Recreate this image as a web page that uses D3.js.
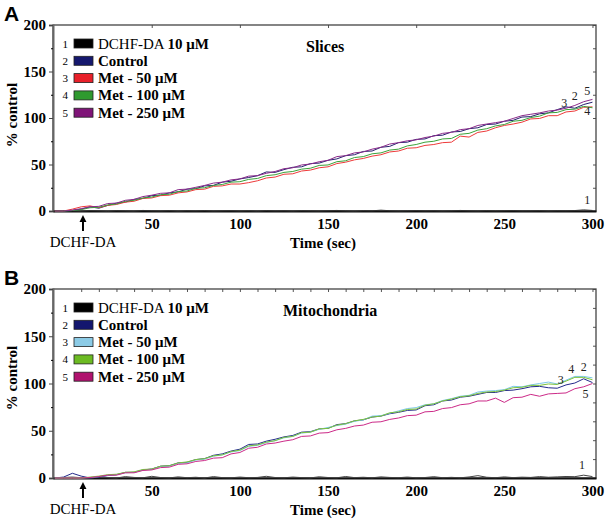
<!DOCTYPE html>
<html><head><meta charset="utf-8">
<script src="https://cdn.jsdelivr.net/npm/d3@7"></script>
<style>body{margin:0;background:#fff}svg{display:block}</style>
</head><body><svg id="c" width="606" height="523"></svg>
<script>
// time points (sec)
const times = [-5,0,5,10,15,20,25,30,35,40,45,50,55,60,65,70,75,80,85,90,95,100,105,110,115,120,125,130,135,140,145,150,155,160,165,170,175,180,185,190,195,200,205,210,215,220,225,230,235,240,245,250,255,260,265,270,275,280,285,290,295,300];
const xTicks = [50,100,150,200,250,300];
const yTicks = [0,50,100,150,200];
const legendLabels = ["DCHF-DA","Control","Met - 50 μM","Met - 100 μM","Met - 250 μM"];

// Panel A – Slices
const sliceDCHF = [0,0,0.3,-0.2,0.5,0.2,-0.3,0.4,0.1,-0.2,0.6,0.2,0,0.4,-0.2,0.3,0.1,0.5,-0.1,0.2,0.4,0,0.3,-0.2,0.5,0.1,0.3,-0.1,0.4,0.2,0,0.3,0.6,0.1,-0.2,0.4,0.2,0.9,0.3,0,0.2,0.5,0.1,0.3,-0.1,0.2,0.6,0.2,0,0.4,0.1,0.3,0.5,0.1,0.2,0.4,0,0.3,0.2,0.5,1.2,0.6];
const sliceControl = [0,0,0.5,2,4.5,3,6,8.5,9.5,12.5,13.5,16.5,17,19.5,20.5,23.5,24,27,27.5,31,32,34.5,36,38,42,41.5,44.5,47,47.5,51,51.5,54.5,56,59.5,60.5,64,64.5,68.5,69.5,73.5,74,77,77.5,81,81.5,85,85.5,88.5,89.5,93,93.5,96.5,97.5,101,101.5,104.5,105.5,109,112,110.5,114.5,117];
const sliceMet50 = [0,0,2,4.5,5.5,3.5,6,7,9.5,10.5,13.5,14,16.5,17,19.5,20.5,23,23.5,26.5,27,29,29,30.5,32.5,35.5,36.5,39.5,40,43,44,46.5,47.5,51,52.5,55,56.5,59,60.5,63.5,64.5,67.5,68,70.5,71.5,73.5,74,80.5,79.5,84.5,86,89.5,92,93.5,95.5,99,99.5,102.5,102.5,106.5,107.5,111.5,112];
const sliceMet100 = [0,0,0.5,1.5,3.5,4,6.5,7.5,10.5,11.5,14,15,17.5,18,21,21.5,24.5,25,27.5,28.5,31,31.5,34,35,38,39,41.5,42.5,45,46,49,49.5,53,54,57.5,58.5,61.5,62.5,65.5,66.5,70,71.5,74,75,77.5,78,82.5,83.5,87,88.5,91.5,93,96.5,97.5,100.5,102,105.5,106,109,109.5,112.5,111];
const sliceMet250 = [0,0,1,2.5,4.5,5,8,8.5,11.5,12.5,15.5,17,19,19.5,23,23.5,25.5,27.5,30,31,33.5,34.5,37.5,38,40.5,42.5,45.5,46.5,49.5,50.5,53,54.5,58.5,59.5,62.5,63.5,66.5,68.5,72,73.5,75.5,76.5,79,80.5,83.5,84.5,87.5,88.5,92,93.5,95,96.5,99.5,102.5,104,105.5,107.5,108.5,110.5,113.5,117.5,120];

// Panel B – Mitochondria
const mitoDCHF = [0,0.5,1,0.3,-0.2,1.2,0.4,0,1.5,0.6,0.2,1.8,0.5,0.1,1.2,0.3,0.8,0,1.5,0.4,0.2,1.0,0.3,0.6,1.8,0.5,0.2,1.0,0.4,0.1,1.3,0.5,0.2,1.6,0.4,0.8,0.2,1.2,0.6,0.3,1.0,0.2,0.5,1.4,0.3,0.7,0.2,1.1,2.5,0.8,0.3,1.2,0.4,0.9,0.6,1.5,0.8,1.2,1.6,1.4,3.0,1.5];
const mitoControl = [0,1,5,2,0,1,2.5,3.5,6,6,8.5,9.5,12.5,13,16,16.5,19.5,20.5,24,25.5,28.5,30.5,35.5,36,39,41,43.5,45,48.5,49,52,52.5,56.5,57.5,60.5,61.5,64.5,65.5,68,69.5,71.5,72,76.5,77.5,81.5,82.5,85.5,86.5,88.5,90.5,90.5,92.5,93,94.5,96.5,97,95.5,95,98.5,100.5,105,101];
const mitoMet50 = [0,0,0,0,0.5,1.5,3,3.5,5.5,6,8.5,9,12,12.5,15.5,16,19,20,23,24.5,27.5,29,33.5,34.5,37.5,39.5,42.5,44,47.5,48.5,51.5,53.5,55.5,57,60,61.5,65.5,66,68.5,71,73.5,74.5,77.5,78.5,82,84,86.5,87.5,91,92,92.5,93.5,97,96.5,98.5,100,101.5,99.5,103.5,107.5,107.5,106];
const mitoMet100 = [0,0,0,0,1,2,3.5,4,6,6.5,9,9.5,12.5,13,16,17,19.5,20.5,23.5,24.5,28,29.5,34,35,38,39.5,43,44,48,48.5,52,52.5,56,57.5,60.5,62,64.5,65.5,69,70,72.5,73,77,78.5,81.5,83.5,86,87,89.5,91,91.5,93,95.5,96,98,98,99.5,99,102.5,106.5,106.5,104];
const mitoMet250 = [0,0,0,0,0.5,1.5,3,3,5.5,5.5,8,8.5,11,11.5,14.5,15,17.5,18.5,21,21.5,25.5,27,31.5,32.5,36,37,39,40.5,44,44.5,47.5,48,51,52.5,55,56,59,59.5,62,63.5,66,66.5,70,70.5,73.5,74.5,77.5,78.5,81.5,81.5,84.5,80,85,85.5,88.5,86.5,89,89.5,90,94.5,96.5,100];

const panels = [
  {letter:"A", title:"Slices", top:25, bottom:211, titleX:306, titleY:52, ylabY:115,
   series:[sliceDCHF,sliceControl,sliceMet50,sliceMet100,sliceMet250],
   colors:["#000000","#15186e","#e8202a","#2f9a2f","#7f1478"],
   lineColors:["#333333","#25206e","#ee3a3a","#3aa33a","#8a2a8a"],
   rightStep:25, topStep:50,
   endLabels:[{n:"1",t:297,v:8},{n:"5",t:297,v:125},{n:"2",t:290,v:119},{n:"4",t:297,v:103},{n:"3",t:284,v:112}]},
  {letter:"B", title:"Mitochondria", top:289, bottom:478, titleX:283, titleY:316, ylabY:378,
   series:[mitoDCHF,mitoControl,mitoMet50,mitoMet100,mitoMet250],
   colors:["#000000","#13166e","#8ccbe6","#6cbb22","#b0126e"],
   lineColors:["#444444","#232a8a","#7cc8e8","#7cc23a","#cc2a88"],
   rightStep:20, topStep:10,
   endLabels:[{n:"1",t:294,v:9},{n:"2",t:295,v:113},{n:"4",t:288,v:111},{n:"3",t:282,v:99},{n:"5",t:296,v:85}]}
];

const svg = d3.select("#c");
const left = 53, right = 596;
const serif = "'Liberation Serif','Times New Roman',serif";

panels.forEach(p => {
  const x = d3.scaleLinear().domain([-6, 302]).range([left, right]);
  const y = d3.scaleLinear().domain([0, 200]).range([p.bottom, p.top]);
  const g = svg.append("g");

  // panel letter
  g.append("text").attr("x", 4).attr("y", p.top - 4)
    .attr("font-family", "'Liberation Sans',Arial,sans-serif").attr("font-weight", "bold")
    .attr("font-size", 21).text(p.letter);

  // right axis ticks (inside)
  g.append("g").attr("transform", `translate(${right},0)`)
    .call(d3.axisLeft(y).tickValues(d3.range(0, 201, p.rightStep)).tickSize(3).tickFormat(""))
    .call(a => a.select(".domain").remove())
    .selectAll("line").attr("stroke", "#555");
  // top axis ticks (inside)
  g.append("g").attr("transform", `translate(0,${p.top})`)
    .call(d3.axisBottom(x).tickValues(d3.range(p.topStep, 301, p.topStep)).tickSize(3).tickFormat(""))
    .call(a => a.select(".domain").remove())
    .selectAll("line").attr("stroke", "#555");

  // frame
  g.append("rect").attr("x", left).attr("y", p.top).attr("width", right - left).attr("height", p.bottom - p.top)
    .attr("fill", "none").attr("stroke", "#444").attr("stroke-width", 1.3);

  // left axis
  const ya = g.append("g").attr("transform", `translate(${left},0)`)
    .call(d3.axisLeft(y).tickValues(yTicks).tickSize(4).tickPadding(3));
  ya.select(".domain").attr("stroke", "#666").attr("stroke-width", 2);
  ya.selectAll("line").attr("stroke", "#444");
  ya.selectAll("text").attr("font-family", serif).attr("font-weight", "bold").attr("font-size", 15).attr("fill", "#000");
  g.append("g").attr("transform", `translate(${left},0)`)
    .call(d3.axisLeft(y).tickValues(d3.range(25, 200, 50)).tickSize(2).tickFormat(""))
    .call(a => a.select(".domain").remove());

  // bottom axis
  const xa = g.append("g").attr("transform", `translate(0,${p.bottom})`)
    .call(d3.axisBottom(x).tickValues(xTicks).tickSize(0).tickPadding(7));
  xa.select(".domain").attr("stroke", "#111").attr("stroke-width", 2);
  xa.selectAll("text").attr("font-family", serif).attr("font-weight", "bold").attr("font-size", 15).attr("fill", "#000");

  // axis titles
  g.append("text").attr("x", 323).attr("y", p.bottom + 37).attr("text-anchor", "middle")
    .attr("font-family", serif).attr("font-weight", "bold").attr("font-size", 15).text("Time (sec)");
  g.append("text").attr("transform", `translate(17,${p.ylabY}) rotate(-90)`).attr("text-anchor", "middle")
    .attr("font-family", serif).attr("font-weight", "bold").attr("font-size", 15).text("% control");

  // lines
  const line = d3.line().x((d, i) => x(times[i])).y(d => y(d));
  p.series.forEach((s, i) => {
    g.append("path").datum(s).attr("d", line).attr("fill", "none")
      .attr("stroke", p.lineColors[i]).attr("stroke-width", 1).attr("stroke-linejoin", "round");
  });
  // end labels
  p.endLabels.forEach(l => {
    g.append("text").attr("x", x(l.t)).attr("y", y(l.v)).attr("font-family", serif)
      .attr("font-size", 12).attr("fill", "#222").attr("text-anchor", "middle").text(l.n);
  });

  // title
  g.append("text").attr("x", p.titleX).attr("y", p.titleY).attr("font-family", serif)
    .attr("font-weight", "bold").attr("font-size", 16).text(p.title);

  // legend
  legendLabels.forEach((lab, i) => {
    const ly = p.top + 18.5 + i * 17.3;
    g.append("text").attr("x", 68).attr("y", ly + 4).attr("text-anchor", "end")
      .attr("font-family", serif).attr("font-size", 11).text(i + 1);
    g.append("rect").attr("x", 74).attr("y", ly - 4.5).attr("width", 19).attr("height", 9)
      .attr("fill", p.colors[i]).attr("stroke", "#222").attr("stroke-width", 0.8);
    const t = g.append("text").attr("x", 98).attr("y", ly + 5).attr("font-family", serif).attr("font-size", 15);
    if (i === 0) {
      t.append("tspan").text("DCHF-DA ");
      t.append("tspan").attr("font-weight", "bold").text("10 μM");
    } else {
      t.attr("font-weight", "bold").text(lab);
    }
  });

  // DCHF-DA arrow
  const ax = x(11);
  g.append("line").attr("x1", ax).attr("x2", ax).attr("y1", p.bottom + 20).attr("y2", p.bottom + 9)
    .attr("stroke", "#000").attr("stroke-width", 2);
  g.append("path").attr("d", `M${ax - 3.5},${p.bottom + 11} L${ax},${p.bottom + 4} L${ax + 3.5},${p.bottom + 11} Z`).attr("fill", "#000");
  g.append("text").attr("x", ax).attr("y", p.bottom + 36).attr("text-anchor", "middle")
    .attr("font-family", serif).attr("font-size", 15).text("DCHF-DA");
});
</script>
</body></html>
